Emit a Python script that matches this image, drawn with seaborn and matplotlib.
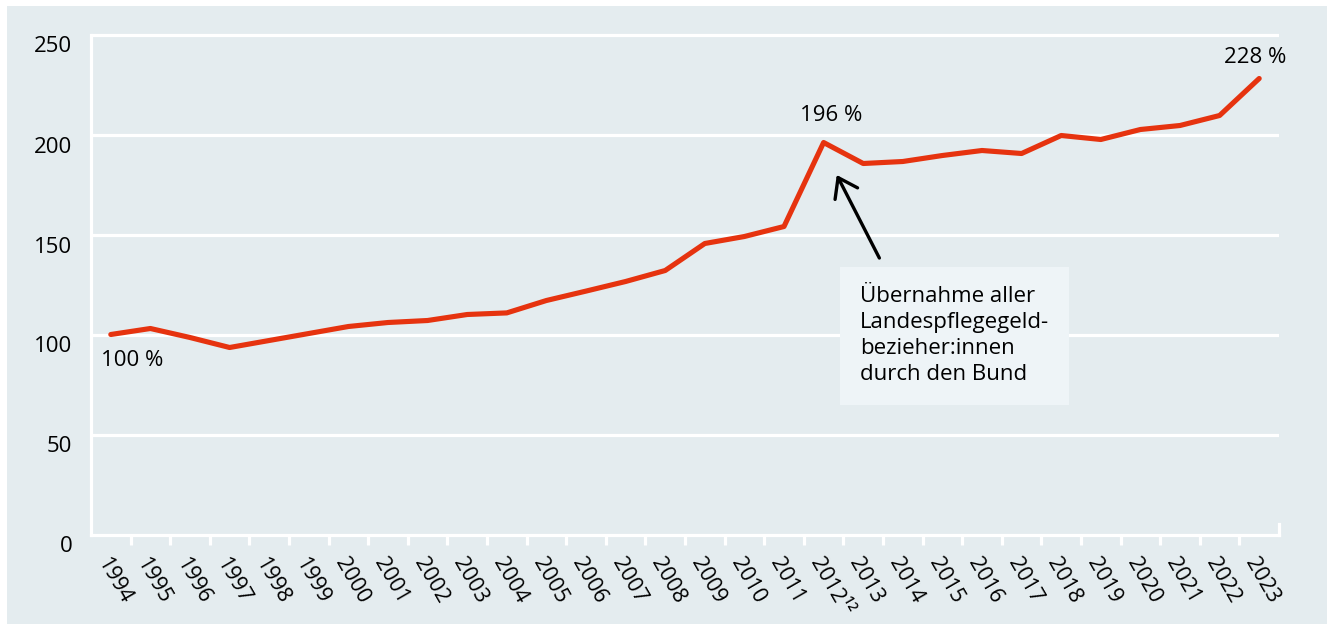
import numpy as np
import pandas as pd
import matplotlib
matplotlib.use("Agg")
import matplotlib.pyplot as plt
import matplotlib.transforms as mtransforms
from matplotlib.patches import Rectangle
import seaborn as sns

# Daten: Index der Pflegegeldbezieher (1994 = 100 %)
years = list(range(1994, 2024))
index_values = [100, 103, 98.5, 93.5, 97, 100.5, 104, 106, 107, 110,
                110.8, 117, 121.7, 126.5, 132, 145.5, 149, 154, 196, 185.5,
                186.5, 189.5, 192, 190.5, 199.5, 197.5, 202.5, 204.5, 209.5, 228]
year_labels = [str(y) for y in years]
year_labels[years.index(2012)] = "2012\u00b9\u00b2"

note_text = "Übernahme aller\nLandespflegegeld-\nbezieher:innen\ndurch den Bund"

bg = "#e4ecef"
red = "#e6330f"

sns.set_theme(style="white")
plt.rcParams["font.family"] = ["Open Sans", "DejaVu Sans"]
plt.rcParams["text.color"] = "black"

df = pd.DataFrame({"Jahr": years, "Index": index_values})

fig = plt.figure(figsize=(13.27, 6.24), dpi=100, facecolor="white")
fig.patches.append(Rectangle((7 / 1327, 0), 1, 1 - 6 / 624, transform=fig.transFigure,
                             facecolor=bg, edgecolor="none", zorder=-1))
ax = fig.add_axes([91 / 1327, (624 - 534.5) / 624, 1188 / 1327, 503 / 624])
ax.set_facecolor(bg)

sns.lineplot(data=df, x="Jahr", y="Index", ax=ax, color=red, linewidth=3.7, zorder=3)
line = ax.get_lines()[0]
line.set_solid_capstyle("round")
line.set_clip_on(False)

ax.set_xlim(1993.5, 2023.5)
ax.set_ylim(0, 251.5)
ax.set_xlabel("")
ax.set_ylabel("")

# Gitter und Achsen
ax.set_yticks([0, 50, 100, 150, 200, 250])
ax.set_yticklabels(["0", "50", "100", "150", "200", "250"])
for v in [50, 100, 150, 200, 250]:
    ax.axhline(v, color="white", linewidth=2.3, zorder=1)

for s in ["left", "bottom", "right"]:
    ax.spines[s].set_visible(True)
    ax.spines[s].set_color("white")
    ax.spines[s].set_linewidth(2.3)
ax.spines["top"].set_visible(False)
ax.spines["left"].set_bounds(0, 250)
ax.spines["right"].set_bounds(0, 5.5)

ax.set_xticks(years)
ax.set_xticklabels(year_labels)
ax.set_xticks([y + 0.5 for y in years[:-1]], minor=True)
ax.tick_params(axis="x", which="major", length=0, pad=14, labelsize=15.5, labelcolor="black")
ax.tick_params(axis="x", which="minor", length=7, width=2.3, color="white", direction="out",
               bottom=True)
ax.tick_params(axis="y", length=0, pad=13.5, labelsize=16, labelcolor="black")

for lab in ax.get_xticklabels():
    lab.set_rotation(-60)
    lab.set_rotation_mode("anchor")
    lab.set_ha("left")
    lab.set_va("top")

for lab in ax.get_yticklabels():
    lab.set_transform(lab.get_transform() +
                      mtransforms.ScaledTranslation(0, -10 / 100, fig.dpi_scale_trans))

# Beschriftungen
ax.text(1994.55, 87, "100 %", fontsize=16, color="black", ha="center", va="center", zorder=4)
ax.text(2012.18, 209.5, "196 %", fontsize=16, color="black", ha="center", va="center", zorder=4)
ax.text(2022.9, 238.5, "228 %", fontsize=16, color="black", ha="center", va="center", zorder=4)

ax.annotate("", xy=(2012.3, 181), xytext=(2013.44, 137),
            arrowprops=dict(arrowstyle="->,head_length=0.5,head_width=0.35",
                            color="black", lw=2.4, mutation_scale=26), zorder=4)

ax.text(2012.92, 124, note_text, fontsize=16, color="black", ha="left", va="top",
        linespacing=1.3, zorder=4,
        bbox=dict(boxstyle="square,pad=0.9", facecolor="#eef4f7", edgecolor="none"))

fig.savefig("out.png", dpi=100, facecolor=fig.get_facecolor())
